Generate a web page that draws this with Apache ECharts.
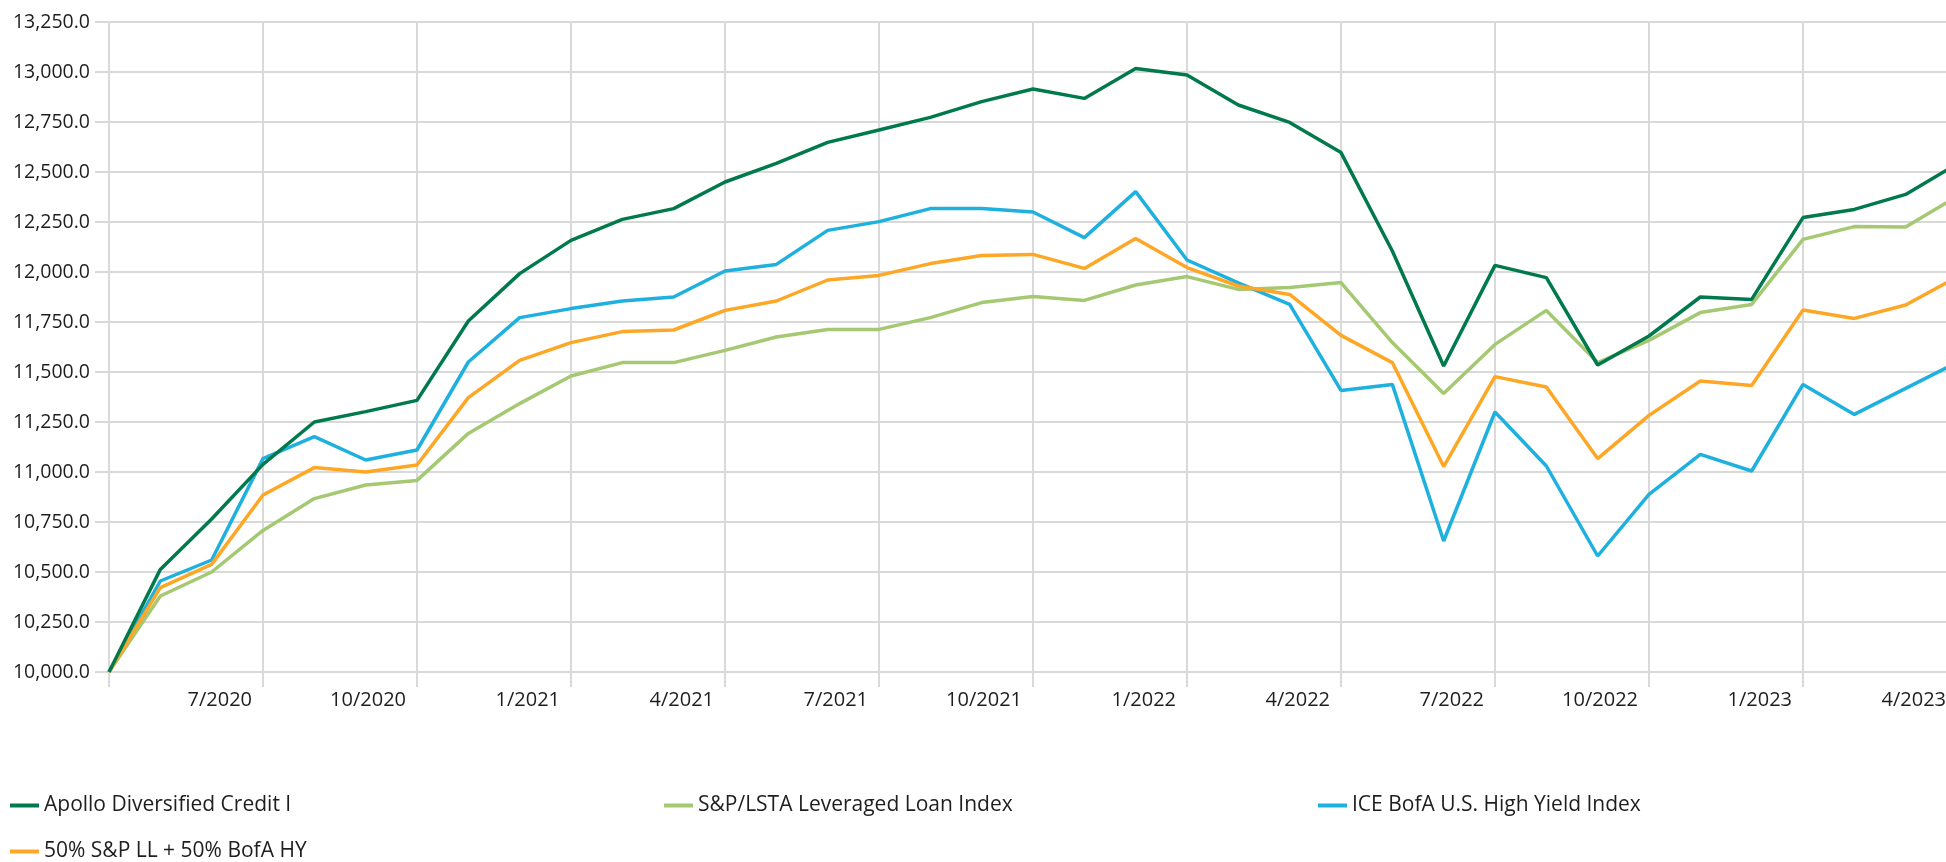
<!DOCTYPE html>
<html>
<head>
<meta charset="utf-8">
<script src="https://cdn.jsdelivr.net/npm/echarts@6/dist/echarts.min.js"></script>
<style>
  html, body { margin: 0; padding: 0; background: #fff; }
  #chart { width: 1946px; height: 862px; }
</style>
</head>
<body>
<div id="chart"></div>
<script>
// monthly, 4/2020 .. 4/2023 (growth of 10,000)
const months = [
  '4/2020', '5/2020', '6/2020', '7/2020', '8/2020', '9/2020', '10/2020', '11/2020', '12/2020',
  '1/2021', '2/2021', '3/2021', '4/2021', '5/2021', '6/2021', '7/2021', '8/2021', '9/2021',
  '10/2021', '11/2021', '12/2021', '1/2022', '2/2022', '3/2022', '4/2022', '5/2022', '6/2022',
  '7/2022', '8/2022', '9/2022', '10/2022', '11/2022', '12/2022', '1/2023', '2/2023', '3/2023', '4/2023'
];

const apollo = [
  10000, 10513, 10765, 11038, 11250, 11302, 11358, 11755, 11992,
  12158, 12263, 12317, 12450, 12543, 12648, 12710, 12773, 12852,
  12915, 12868, 13017, 12985, 12835, 12748, 12597, 12105, 11530,
  12033, 11972, 11535, 11680, 11875, 11863, 12272, 12313, 12388, 12540
];

const lstaLoan = [
  10000, 10380, 10500, 10708, 10867, 10935, 10958, 11193, 11342,
  11480, 11547, 11547, 11608, 11675, 11713, 11713, 11772, 11847,
  11877, 11858, 11935, 11977, 11913, 11922, 11947, 11647, 11392,
  11638, 11808, 11547, 11658, 11797, 11838, 12163, 12227, 12225, 12378
];

const iceHighYield = [
  10000, 10455, 10560, 11067, 11177, 11060, 11110, 11550, 11772,
  11817, 11855, 11875, 12005, 12038, 12208, 12252, 12317, 12318,
  12300, 12172, 12402, 12060, 11946, 11838, 11408, 11438, 10655,
  11300, 11030, 10580, 10888, 11088, 11005, 11438, 11288, 11418, 11548
];

const blend = [
  10000, 10422, 10538, 10885, 11022, 11000, 11035, 11372, 11558,
  11647, 11702, 11710, 11808, 11855, 11960, 11983, 12042, 12083,
  12088, 12018, 12168, 12022, 11930, 11888, 11683, 11547, 11027,
  11477, 11425, 11067, 11283, 11455, 11433, 11810, 11768, 11835, 11975
];

const seriesNames = [
  'Apollo Diversified Credit I',
  'S&P/LSTA Leveraged Loan Index',
  'ICE BofA U.S. High Yield Index',
  '50% S&P LL + 50% BofA HY'
];
const colors = ['#007a4c', '#a5c872', '#1eb0de', '#fea726'];

const FONT = '"Open Sans", "Noto Sans", sans-serif';
const GRID_COLOR = '#d9d9d9';
const TEXT_COLOR = '#1e1e1e';

const everyQuarter = (i) => i % 3 === 0;

function makeLegend(name, left, top) {
  return {
    data: [name],
    left: left,
    top: top,
    icon: 'rect',
    itemWidth: 29,
    itemHeight: 4,
    padding: 0,
    textStyle: { fontFamily: FONT, fontSize: 21, color: TEXT_COLOR }
  };
}

const chart = echarts.init(document.getElementById('chart'));

chart.setOption({
  animation: false,
  color: colors,
  grid: {
    left: 109,
    top: 22,
    width: 1848,
    height: 650,
    containLabel: false,
    outerBoundsMode: 'none'
  },
  legend: [
    makeLegend(seriesNames[0], 10, 795),
    makeLegend(seriesNames[1], 664, 795),
    makeLegend(seriesNames[2], 1318, 795),
    makeLegend(seriesNames[3], 10, 841)
  ],
  xAxis: {
    type: 'category',
    data: months,
    boundaryGap: false,
    axisLine: { show: true, lineStyle: { color: GRID_COLOR, width: 2 } },
    axisTick: { show: true, length: 15, interval: everyQuarter, lineStyle: { color: GRID_COLOR, width: 2 } },
    splitLine: { show: true, interval: everyQuarter, lineStyle: { color: GRID_COLOR, width: 2 } },
    axisLabel: {
      interval: (i) => i > 0 && i % 3 === 0,
      align: 'right',
      padding: [0, 11, 0, 0],
      margin: 18,
      fontFamily: FONT,
      fontSize: 20,
      color: TEXT_COLOR
    }
  },
  yAxis: {
    type: 'value',
    min: 10000,
    max: 13250,
    interval: 250,
    axisLine: { show: false },
    axisTick: { show: true, length: 14, lineStyle: { color: GRID_COLOR, width: 2 } },
    splitLine: { show: true, lineStyle: { color: GRID_COLOR, width: 2 } },
    axisLabel: {
      margin: 19,
      fontFamily: FONT,
      fontSize: 19.5,
      color: TEXT_COLOR,
      formatter: (v) => v.toLocaleString('en-US', { minimumFractionDigits: 1, maximumFractionDigits: 1 })
    }
  },
  series: [
    { name: seriesNames[0], type: 'line', data: apollo, z: 5 },
    { name: seriesNames[1], type: 'line', data: lstaLoan, z: 3 },
    { name: seriesNames[2], type: 'line', data: iceHighYield, z: 3 },
    { name: seriesNames[3], type: 'line', data: blend, z: 4 }
  ].map(s => ({
    ...s,
    showSymbol: false,
    symbol: 'none',
    lineStyle: { width: 3.5 },
    emphasis: { disabled: true }
  }))
});
</script>
</body>
</html>
